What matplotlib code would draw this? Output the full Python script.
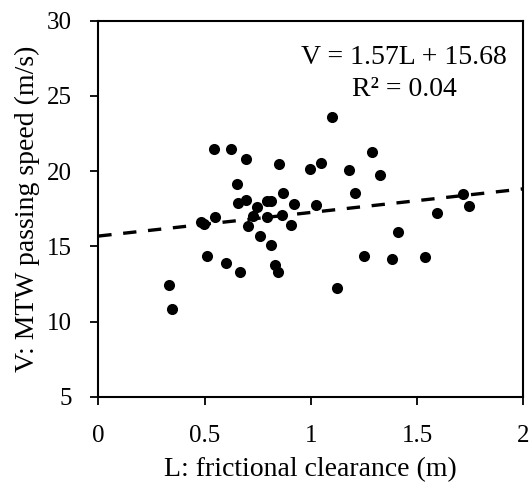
import numpy as np
import matplotlib
matplotlib.use('Agg')
from matplotlib import pyplot as plt

plt.rcParams['font.family'] = 'Liberation Serif'
plt.rcParams['font.size'] = 18

# frictional clearance L (m) and passing speed V (m/s)
L = [0.546, 0.623, 0.696, 0.852, 0.994, 0.652, 0.868, 0.656, 0.693, 0.792,
     0.813, 0.922, 0.746, 0.727, 0.794, 0.863, 0.548, 0.482, 0.499, 0.704,
     0.908, 0.760, 0.814, 0.513, 0.601, 0.669, 0.833, 0.847, 0.335, 0.349,
     1.101, 1.287, 1.047, 1.179, 1.324, 1.209, 1.024, 1.714, 1.746, 1.593,
     1.410, 1.252, 1.384, 1.536, 1.123]
V = [21.45, 21.45, 20.79, 20.48, 20.13, 19.15, 18.54, 17.87, 18.09, 17.98,
     18.03, 17.83, 17.58, 16.99, 16.92, 17.10, 16.92, 16.59, 16.46, 16.35,
     16.42, 15.66, 15.09, 14.38, 13.90, 13.30, 13.74, 13.26, 12.44, 10.83,
     23.57, 21.29, 20.54, 20.06, 19.73, 18.54, 17.76, 18.47, 17.70, 17.19,
     15.93, 14.38, 14.16, 14.27, 12.25]

slope, intercept = 1.57, 15.68
r2 = 0.04

fig = plt.figure(figsize=(5.29, 4.87), dpi=100)
ax = fig.add_axes([98.3/529, 1 - 396.7/487, 425/529, 376/487])

ax.scatter(L, V, s=64, color='black', zorder=3, linewidths=0)

xfit = np.array([0, 2])
ax.plot(xfit, slope*xfit + intercept, color='black', linestyle=(0, (4, 3.5)), linewidth=2.4)

ax.set_xlim(0, 2)
ax.set_ylim(5, 30)
ax.set_xticks([0, 0.5, 1, 1.5, 2])
ax.set_xticklabels(['0', '0.5', '1', '1.5', '2'])
ax.set_yticks([5, 10, 15, 20, 25, 30])
ax.tick_params(direction='out', length=5.8, width=1.3)
ax.tick_params(axis='x', pad=14.5)
ax.tick_params(axis='y', pad=13)
for sp in ax.spines.values():
    sp.set_linewidth(1.5)

ax.set_xlabel('L: frictional clearance (m)', fontsize=20, labelpad=7)
ax.set_ylabel('V: MTW passing speed (m/s)', fontsize=20, labelpad=5.5)

ax.text(0.719, 0.935, f'V = {slope}L + {intercept}\nR² = {r2:.2f}', transform=ax.transAxes,
        ha='center', va='top', fontsize=20, linespacing=1.36)

fig.savefig('out.png', dpi=100)
